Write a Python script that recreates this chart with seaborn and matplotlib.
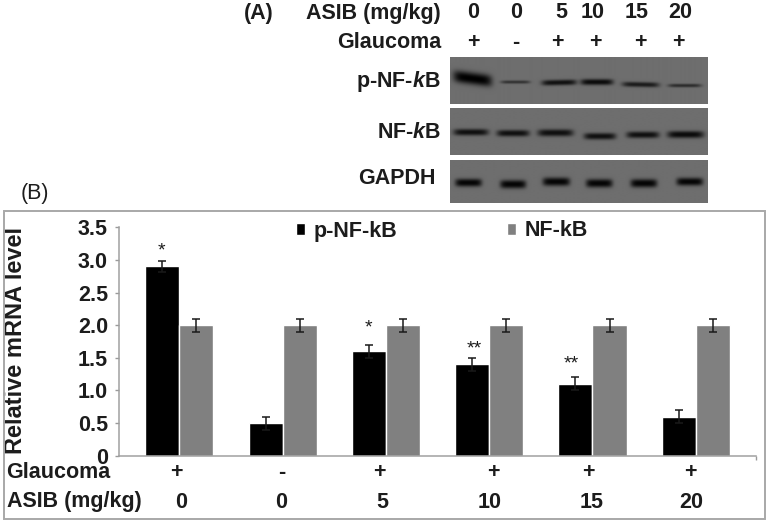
import numpy as np
import pandas as pd
import matplotlib
matplotlib.use("Agg")
import matplotlib.pyplot as plt
from matplotlib.patches import Rectangle
from matplotlib.lines import Line2D
import seaborn as sns

# ---- data ----
groups = ["G1", "G2", "G3", "G4", "G5", "G6"]
glaucoma = ["+", "-", "+", "+", "+", "+"]
asib = ["0", "0", "5", "10", "15", "20"]
p_nfkb = [2.9, 0.5, 1.6, 1.4, 1.1, 0.6]
nfkb = [2.0, 2.0, 2.0, 2.0, 2.0, 2.0]
p_nfkb_err = [0.09, 0.10, 0.10, 0.10, 0.10, 0.10]
nfkb_err = [0.10, 0.10, 0.10, 0.10, 0.10, 0.10]
stars = ["*", "", "*", "**", "**", ""]
ytick_labels = ["0", "0.5", "1.0", "1.5", "2.0", "2.5", "3.0", "3.5"]
yticks = [0, 0.5, 1, 1.5, 2, 2.5, 3, 3.5]

# blot band strengths (0-1) per lane
blot_p = [1.0, 0.55, 0.85, 0.9, 0.75, 0.6]
blot_n = [0.85, 0.85, 0.85, 0.85, 0.85, 0.9]
blot_g = [0.95, 0.95, 0.95, 0.95, 0.95, 0.95]

W, H = 770, 527
sns.set_theme(style="white")
plt.rcParams["font.family"] = ["Liberation Sans", "DejaVu Sans"]
plt.rcParams["font.weight"] = "bold"
plt.rcParams["mathtext.fontset"] = "custom"
plt.rcParams["mathtext.it"] = "Liberation Sans:italic:bold"
plt.rcParams["mathtext.rm"] = "Liberation Sans:bold"
plt.rcParams["mathtext.default"] = "regular"

fig = plt.figure(figsize=(W / 100, H / 100), dpi=100, facecolor="white")
TXT = "#1c1c1c"
FS = 15


def T(x, y, s, ha="center", va="center", size=FS, weight="bold", **kw):
    return fig.text(x / W, 1 - y / H, s, ha=ha, va=va, fontsize=size, weight=weight, color=kw.pop("color", TXT), **kw)


def rect(x0, y0, x1, y1):
    return [x0 / W, 1 - y1 / H, (x1 - x0) / W, (y1 - y0) / H]


# frame around panel B
fig.add_artist(Rectangle((3.5 / W, 1 - 519 / H), 761.5 / W, 308 / H, transform=fig.transFigure,
                         fill=False, ec="#a8a8a8", lw=1.4))

# ---- bar chart ----
ax = fig.add_axes(rect(119, 227.3, 756, 455.7))
df = pd.DataFrame({
    "group": groups * 2,
    "value": p_nfkb + nfkb,
    "series": ["p-NF-kB"] * 6 + ["NF-kB"] * 6,
})
sns.barplot(data=df, x="group", y="value", hue="series", palette=["#000000", "#808080"],
            width=0.66, gap=0, errorbar=None, saturation=1, ax=ax, legend=False, zorder=2)
for cont, errs in zip(ax.containers, [p_nfkb_err, nfkb_err]):
    for patch, e in zip(cont, errs):
        ax.errorbar(patch.get_x() + patch.get_width() / 2, patch.get_height(), yerr=e,
                    fmt="none", ecolor="#1a1a1a", elinewidth=1.1, capsize=3, capthick=1.1, zorder=3)
ax.set_xlim(-0.584, 5.583)
ax.set_ylim(0, 3.5)
ax.set_xlabel("")
ax.set_ylabel("Relative mRNA level", fontsize=17, weight="bold", color=TXT)
ax.yaxis.set_label_coords((27 - 119) / 637, 0.504)
ax.set_yticks(yticks, ytick_labels, fontsize=15.5, weight="bold", color=TXT)
ax.set_xticks([5.583], [""])
ax.tick_params(axis="both", length=3, width=1, color="#9a9a9a", left=True, bottom=True, pad=5)
sns.despine(ax=ax)
for s in ["left", "bottom"]:
    ax.spines[s].set_color("#a0a0a0")
    ax.spines[s].set_linewidth(1.1)

# asterisks
star_px = {0: (161, 251), 2: (368.7, 328), 3: (474, 349), 4: (571.7, 364)}
for i, s in enumerate(stars):
    if s:
        T(star_px[i][0], star_px[i][1], s, size=14, weight="normal")

# legend
handles = [Rectangle((0, 0), 1, 1, fc="#000000"), Rectangle((0, 0), 1, 1, fc="#808080")]
leg = fig.legend(handles, ["p-NF-kB", "NF-kB"], ncol=2, loc="center left",
                 bbox_to_anchor=(296 / W, 1 - 231 / H), frameon=False, fontsize=15.5,
                 handlelength=0.42, handleheight=0.45, handletextpad=0.4, columnspacing=5.1,
                 borderpad=0, borderaxespad=0, labelcolor=TXT)

# category rows under the chart
T(58, 473, "Glaucoma", size=15.5)
T(74, 502, "ASIB (mg/kg)", size=15.5)
for x, s in zip([176, 282, 379, 493, 588, 690], glaucoma):
    T(x, 473, s, size=15.5)
for x, s in zip([181, 281, 382, 490, 592, 691], asib):
    T(x, 502, s, size=15.5)

# panel letters
T(35, 194, "(B)", size=15.5, weight="normal")
T(259, 14, "(A)", size=15.5)

# header of panel A
T(441, 13, "ASIB (mg/kg)", ha="right", size=15.5)
T(441, 42, "Glaucoma", ha="right", size=15.5)
for x, s in zip([473, 516, 561, 593, 637, 680], asib):
    T(x, 13, s, size=15.5)
for x, s in zip([473, 516, 557, 595, 640, 678], glaucoma):
    T(x, 42, s, size=15.5)
T(441, 82, r"p-NF-$\mathit{k}$B", ha="right", size=15.5)
T(441, 132, r"NF-$\mathit{k}$B", ha="right", size=15.5)
T(436, 179, "GAPDH", ha="right", size=15.5)


# ---- blots ----
def blot(y0, y1, strengths, lanes, ys, thick, tilt=None, bg=0.43):
    x0, x1 = 450, 708
    X, Y = np.meshgrid(np.arange(x0, x1 + 0.5, 0.5), np.arange(y0, y1 + 0.5, 0.5))
    img = np.full(X.shape, bg, dtype=float)
    for k, ((a, b), yc, th, s) in enumerate(zip(lanes, ys, thick, strengths)):
        cx, hw = (a + b) / 2, (b - a) / 2
        slope = 0 if tilt is None else tilt[k]
        yy = yc + slope * (X - cx)
        prof = np.exp(-np.abs((Y - yy) / (th / 2)) ** 2.4) * np.exp(-np.abs((X - cx) / hw) ** 6)
        img = img * (1 - s * prof)
    a2 = fig.add_axes(rect(x0, y0, x1, y1))
    a2.imshow(img, cmap="gray", vmin=0, vmax=1, aspect="auto", interpolation="bilinear")
    a2.set_axis_off()


def zx(v):
    return [(240 + a / 3, 240 + b / 3) for a, b in v]


blot(56.7, 104, blot_p,
     zx([(640, 755), (782, 870), (905, 1010), (1022, 1120), (1147, 1258), (1285, 1385)]),
     [79, 82.5, 83, 82.5, 85, 86], [12, 3.2, 5.5, 6, 5, 3.5],
     tilt=[0.13, 0, -0.02, 0, 0.02, 0])
blot(108, 155, blot_n,
     zx([(640, 745), (770, 868), (893, 1000), (1032, 1128), (1160, 1258), (1283, 1392)]),
     [132.7, 133.7, 133.3, 136.7, 135.3, 135], [6.5, 6.5, 7, 6.5, 6.5, 7])
blot(160, 203, blot_g,
     zx([(645, 725), (780, 858), (908, 990), (1038, 1118), (1172, 1252), (1310, 1390)]),
     [182.7, 184.3, 181.7, 183.3, 183.3, 181.7], [8, 8.5, 8.5, 8.5, 8.5, 8])

fig.savefig("out.png", dpi=100, facecolor="white")
